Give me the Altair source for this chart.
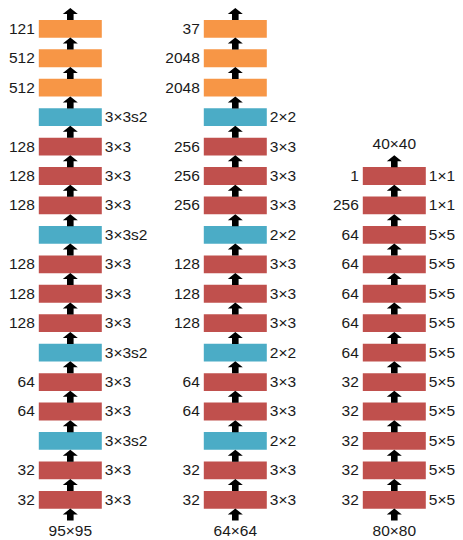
import altair as alt
import pandas as pd

# ---- data (bottom layer first) ----
col_names = ["A", "B", "C"]
inputs = ["95×95", "64×64", "80×80"]
output_label = ["", "", "40×40"]

a_types = ["conv", "conv", "pool", "conv", "conv", "pool", "conv", "conv", "conv",
           "pool", "conv", "conv", "conv", "pool", "fc", "fc", "fc"]
a_channels = ["32", "32", "", "64", "64", "", "128", "128", "128",
              "", "128", "128", "128", "", "512", "512", "121"]
a_kernels = ["3×3", "3×3", "3×3s2", "3×3", "3×3", "3×3s2", "3×3", "3×3", "3×3",
             "3×3s2", "3×3", "3×3", "3×3", "3×3s2", "", "", ""]

b_types = ["conv", "conv", "pool", "conv", "conv", "pool", "conv", "conv", "conv",
           "pool", "conv", "conv", "conv", "pool", "fc", "fc", "fc"]
b_channels = ["32", "32", "", "64", "64", "", "128", "128", "128",
              "", "256", "256", "256", "", "2048", "2048", "37"]
b_kernels = ["3×3", "3×3", "2×2", "3×3", "3×3", "2×2", "3×3", "3×3", "3×3",
             "2×2", "3×3", "3×3", "3×3", "2×2", "", "", ""]

c_types = ["conv"] * 12
c_channels = ["32", "32", "32", "32", "32", "64", "64", "64", "64", "64", "256", "1"]
c_kernels = ["5×5", "5×5", "5×5", "5×5", "5×5", "5×5", "5×5", "5×5", "5×5", "5×5",
             "1×1", "1×1"]

columns = [(a_types, a_channels, a_kernels),
           (b_types, b_channels, b_kernels),
           (c_types, c_channels, c_kernels)]

layer_rows, arrow_rows, label_rows = [], [], []
for ci, (types, chans, kers) in enumerate(columns):
    n = len(types)
    for li in range(n):
        layer_rows.append({"col": ci, "layer": li, "type": types[li],
                           "channels": chans[li], "kernel": kers[li]})
    for li in range(n + 1):
        arrow_rows.append({"col": ci, "pos": li - 0.5})
    label_rows.append({"col": ci, "pos": -1, "text": inputs[ci], "kind": "in"})
    if output_label[ci]:
        label_rows.append({"col": ci, "pos": n, "text": output_label[ci], "kind": "out"})

layers = pd.DataFrame(layer_rows)
arrows = pd.DataFrame(arrow_rows)
labels = pd.DataFrame(label_rows)

xs = alt.Scale(domain=[0, 1, 2], range=[62.3, 227.3, 386.3])
ys = alt.Scale(domain=[0, 16], range=[491.8, 20.8])
FONT = "Liberation Sans"
FS = 15.5

base = alt.Chart(layers)

boxes = base.mark_rect(xOffset=-31.5, x2Offset=31.5, yOffset=-8.9, y2Offset=8.9).encode(
    x=alt.X("col:Q", scale=xs, axis=None),
    x2="col:Q",
    y=alt.Y("layer:Q", scale=ys, axis=None),
    y2="layer:Q",
    color=alt.Color("type:N", scale=alt.Scale(domain=["conv", "pool", "fc"],
                                               range=["#C0504D", "#4BACC6", "#F79646"]),
                    legend=None),
)

left = base.mark_text(align="right", baseline="middle", dx=-35.5, font=FONT,
                      fontSize=FS, color="#1a1a1a").encode(
    x=alt.X("col:Q", scale=xs, axis=None),
    y=alt.Y("layer:Q", scale=ys, axis=None),
    text="channels:N",
)

right = base.mark_text(align="left", baseline="middle", dx=34.5, font=FONT,
                       fontSize=FS, color="#1a1a1a").encode(
    x=alt.X("col:Q", scale=xs, axis=None),
    y=alt.Y("layer:Q", scale=ys, axis=None),
    text="kernel:N",
)

ARROW = "M0,-0.8L1,0L0.44,0L0.44,0.8L-0.44,0.8L-0.44,0L-1,0Z"
arrow_marks = alt.Chart(arrows).mark_point(shape=ARROW, filled=True, size=225,
                                           color="black", opacity=1,
                                           strokeWidth=0).encode(
    x=alt.X("col:Q", scale=xs, axis=None),
    y=alt.Y("pos:Q", scale=ys, axis=None),
)

in_labels = alt.Chart(labels).transform_filter(alt.datum.kind == "in").mark_text(
    align="center", baseline="middle", dy=1.5, font=FONT, fontSize=FS,
    color="#1a1a1a").encode(
    x=alt.X("col:Q", scale=xs, axis=None),
    y=alt.Y("pos:Q", scale=ys, axis=None),
    text="text:N",
)
out_labels = alt.Chart(labels).transform_filter(alt.datum.kind == "out").mark_text(
    align="center", baseline="middle", dy=-2.6, font=FONT, fontSize=FS,
    color="#1a1a1a").encode(
    x=alt.X("col:Q", scale=xs, axis=None),
    y=alt.Y("pos:Q", scale=ys, axis=None),
    text="text:N",
)

chart = alt.layer(boxes, arrow_marks, left, right, in_labels, out_labels).properties(
    width=447, height=532, padding=0, autosize="none"
).configure_view(stroke=None)

chart.save("out.html", embed_options={"renderer": "svg", "actions": False})
